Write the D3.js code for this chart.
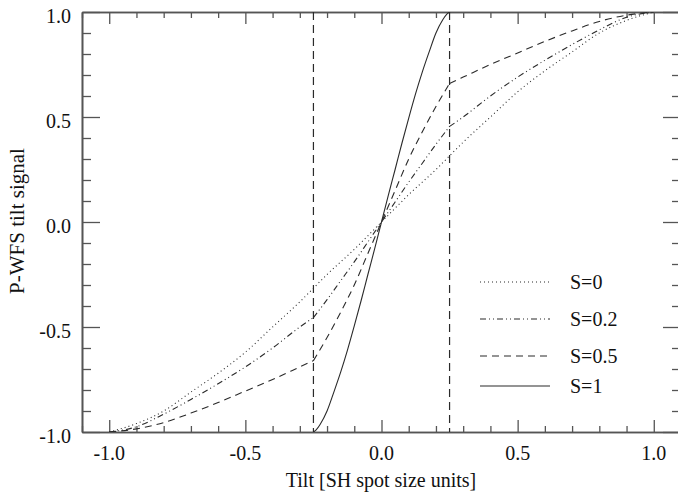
<!DOCTYPE html>
<html><head><meta charset="utf-8">
<script src="https://cdn.jsdelivr.net/npm/d3@7"></script>
<style>
html,body{margin:0;padding:0;background:#fff;}
svg{display:block;}
text{font-family:'Liberation Serif','DejaVu Serif',serif;}
</style></head>
<body>
<svg id="chart" width="678" height="493"></svg>
<script>
// ---- data ----
const xTickValues = [-1.0, -0.5, 0.0, 0.5, 1.0];
const xTickLabels = ["-1.0", "-0.5", "0.0", "0.5", "1.0"];
const yTickValues = [-1.0, -0.5, 0.0, 0.5, 1.0];
const yTickLabels = ["-1.0", "-0.5", "0.0", "0.5", "1.0"];
const seriesNames = ["S=0", "S=0.2", "S=0.5", "S=1"];
const markerLines = [-0.25, 0.25];

const xS0 = [-1, -0.9, -0.8, -0.7, -0.6, -0.5, -0.4, -0.3, -0.2, -0.1, 0, 0.1, 0.2, 0.3, 0.4, 0.5, 0.6, 0.7, 0.8, 0.9, 1];
const yS0 = [-1, -0.96, -0.90, -0.81, -0.72, -0.62, -0.50, -0.38, -0.25, -0.13, 0, 0.13, 0.25, 0.38, 0.50, 0.62, 0.72, 0.81, 0.90, 0.96, 1];

const xS02 = [-1, -0.9, -0.8, -0.7, -0.6, -0.5, -0.4, -0.3, -0.25, -0.2, -0.15, -0.1, -0.05, 0, 0.05, 0.1, 0.15, 0.2, 0.25, 0.3, 0.4, 0.5, 0.6, 0.7, 0.8, 0.9, 1];
const yS02 = [-1, -0.975, -0.915, -0.845, -0.77, -0.69, -0.60, -0.50, -0.455, -0.37, -0.28, -0.19, -0.095, 0, 0.095, 0.19, 0.28, 0.37, 0.455, 0.50, 0.60, 0.69, 0.77, 0.845, 0.915, 0.975, 1];

const xS05 = [-1, -0.9, -0.8, -0.7, -0.6, -0.5, -0.4, -0.3, -0.25, -0.2, -0.15, -0.1, -0.05, 0, 0.05, 0.1, 0.15, 0.2, 0.25, 0.3, 0.4, 0.5, 0.6, 0.7, 0.8, 0.9, 1];
const yS05 = [-1, -0.985, -0.955, -0.91, -0.86, -0.805, -0.75, -0.69, -0.66, -0.55, -0.43, -0.30, -0.15, 0, 0.15, 0.30, 0.43, 0.55, 0.66, 0.69, 0.75, 0.805, 0.86, 0.91, 0.955, 0.985, 1];

const xS1 = [-0.25, -0.24, -0.225, -0.2, -0.175, -0.15, -0.125, -0.1, -0.075, -0.05, -0.025, 0, 0.025, 0.05, 0.075, 0.1, 0.125, 0.15, 0.175, 0.2, 0.225, 0.24, 0.25];
const yS1 = [-1, -0.99, -0.963, -0.90, -0.81, -0.715, -0.61, -0.495, -0.375, -0.25, -0.127, 0, 0.127, 0.25, 0.375, 0.495, 0.61, 0.715, 0.81, 0.90, 0.963, 0.99, 1];

const seriesX = [xS0, xS02, xS05, xS1];
const seriesY = [yS0, yS02, yS05, yS1];
const seriesKinked = [false, true, true, false];
const dashes = ["1,3", "6,3,1,3,1,3", "7,5", null];

// ---- layout ----
const svg = d3.select("#chart");
const L = 82, R = 681, T = 12, B = 432;
const x = d3.scaleLinear().domain([-1.1, 1.1]).range([L, R]);
const y = d3.scaleLinear().domain([-1, 1]).range([B, T]);
const axisColor = "#555", lineColor = "#2a2a2a";
const font = 20;
const fontFamily = "'Liberation Serif','DejaVu Serif',serif";

svg.append("defs").append("clipPath").attr("id", "clip")
  .append("rect").attr("x", L).attr("y", T).attr("width", R - L).attr("height", B - T);

const xMinor = d3.range(-11, 12).map(i => i / 10).filter(v => xTickValues.every(t => Math.abs(t - v) > 1e-6));
const yMinor = d3.range(-10, 11).map(i => i / 10).filter(v => yTickValues.every(t => Math.abs(t - v) > 1e-6));

function styleAxis(g) {
  g.select(".domain").attr("stroke", axisColor).attr("stroke-width", 1.6);
  g.selectAll(".tick line").attr("stroke", axisColor).attr("stroke-width", 1.3);
}
function addAxis(axis, tr) {
  svg.append("g").attr("transform", tr).call(axis.tickFormat("").tickSizeOuter(0)).call(styleAxis);
}
addAxis(d3.axisTop(x).tickValues(xMinor).tickSize(6), `translate(0,${B})`);
addAxis(d3.axisTop(x).tickValues(xTickValues).tickSize(12), `translate(0,${B})`);
addAxis(d3.axisBottom(x).tickValues(xMinor).tickSize(6), `translate(0,${T})`);
addAxis(d3.axisBottom(x).tickValues(xTickValues).tickSize(12), `translate(0,${T})`);
addAxis(d3.axisRight(y).tickValues(yMinor).tickSize(9), `translate(${L},0)`);
addAxis(d3.axisRight(y).tickValues(yTickValues).tickSize(18), `translate(${L},0)`);
addAxis(d3.axisLeft(y).tickValues(yMinor).tickSize(9), `translate(${R},0)`);
addAxis(d3.axisLeft(y).tickValues(yTickValues).tickSize(18), `translate(${R},0)`);

// tick labels
svg.append("g").selectAll("text").data(xTickValues).join("text")
  .attr("x", d => x(d)).attr("y", 460).attr("text-anchor", "middle")
  .attr("font-family", fontFamily).attr("font-size", font).attr("fill", "#111").text((d, i) => xTickLabels[i]);
svg.append("g").selectAll("text").data(yTickValues).join("text")
  .attr("x", 71).attr("y", d => y(d) + 11).attr("text-anchor", "end")
  .attr("font-family", fontFamily).attr("font-size", font).attr("fill", "#111").text((d, i) => yTickLabels[i]);

// axis titles
svg.append("text").attr("x", 381).attr("y", 487).attr("text-anchor", "middle")
  .attr("font-family", fontFamily).attr("font-size", font).attr("fill", "#111").text("Tilt [SH spot size units]");
svg.append("text").attr("transform", `translate(24,221) rotate(-90)`).attr("text-anchor", "middle")
  .attr("font-family", fontFamily).attr("font-size", 21).attr("fill", "#111").text("P-WFS tilt signal");

// vertical dashed markers
svg.append("g").selectAll("line").data(markerLines).join("line")
  .attr("x1", d => x(d)).attr("x2", d => x(d)).attr("y1", T).attr("y2", B)
  .attr("stroke", lineColor).attr("stroke-width", 1.2).attr("stroke-dasharray", "8,5");

// curves (series with a kink at |x| = 0.25 are split there)
const plot = svg.append("g").attr("clip-path", "url(#clip)");
const lineGen = d3.line().x(d => x(d[0])).y(d => y(d[1])).curve(d3.curveMonotoneX);
seriesX.forEach((xs, si) => {
  const pts = xs.map((v, i) => [v, seriesY[si][i]]);
  let segs = [pts];
  if (seriesKinked[si]) {
    segs = [
      pts.filter(p => p[0] <= -0.25 + 1e-9),
      pts.filter(p => p[0] >= -0.25 - 1e-9 && p[0] <= 0.25 + 1e-9),
      pts.filter(p => p[0] >= 0.25 - 1e-9)
    ];
  }
  const path = segs.filter(s => s.length > 1).map(s => lineGen(s)).join("");
  plot.append("path").attr("d", path).attr("fill", "none")
    .attr("stroke", lineColor).attr("stroke-width", 1.1)
    .attr("stroke-dasharray", dashes[si]);
});

// legend
const legY = [282, 319, 356, 386];
const leg = svg.append("g");
seriesNames.forEach((name, i) => {
  leg.append("line").attr("x1", 480).attr("x2", 550).attr("y1", legY[i]).attr("y2", legY[i])
    .attr("stroke", lineColor).attr("stroke-width", 1.1).attr("stroke-dasharray", dashes[i]);
  leg.append("text").attr("x", 570).attr("y", legY[i] + 7)
    .attr("font-family", fontFamily).attr("font-size", font)
    .attr("fill", "#111").text(name);
});
</script>
</body></html>
